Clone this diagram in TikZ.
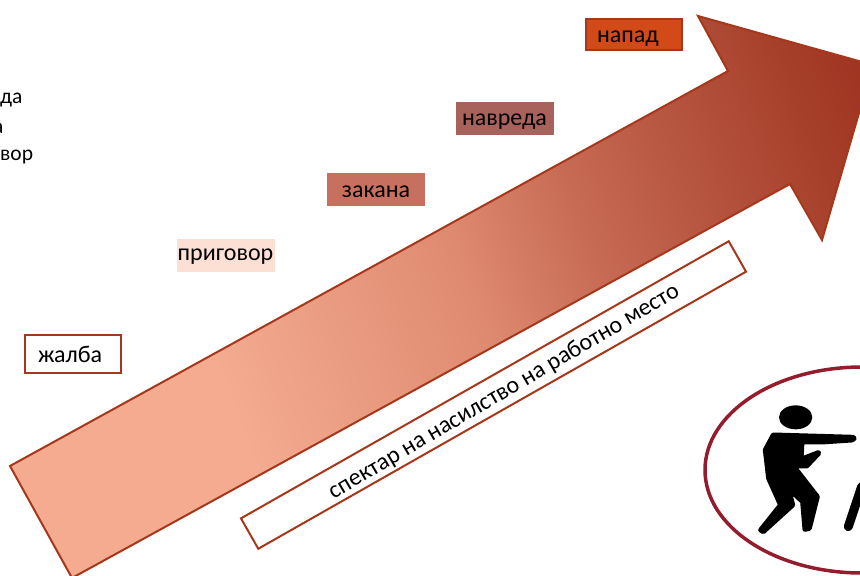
\documentclass[tikz,border=0pt]{standalone}
\usepackage{fontspec}
\setmainfont{Carlito}
\usepackage{xcolor}
\usetikzlibrary{positioning, arrows.meta, shapes}

\definecolor{rust}{HTML}{A5371B}
\definecolor{peach}{HTML}{F4AB90}
\definecolor{wine}{HTML}{9B2D1C}
\definecolor{ringred}{HTML}{A02030}
\definecolor{peachbox}{HTML}{FCE0D4}
\definecolor{zakanabox}{HTML}{C87060}
\definecolor{navredabox}{HTML}{A8625C}
\definecolor{napadbox}{HTML}{D24A17}
\definecolor{shadeone}{HTML}{DE8A70}
\definecolor{shadetwo}{HTML}{C86B54}
\definecolor{shadethree}{HTML}{B5543F}
\definecolor{shadefour}{HTML}{A63F2A}

\pgfdeclarehorizontalshading{arrowshade}{100bp}{
    color(0bp)=(peach); color(35bp)=(peach);
    color(52bp)=(shadeone); color(60bp)=(shadetwo);
    color(68bp)=(shadethree); color(76bp)=(shadefour);
    color(83bp)=(wine); color(100bp)=(wine)}

\tikzset{
    levelbox/.style={draw=#1, fill=#1, line width=2pt, minimum width=96, minimum height=31, inner sep=0pt, text height=17, text depth=1, font=\fontsize{24}{28}\selectfont},
    lefttext/.style={text width=#1, align=left},
    sidetext/.style={anchor=west, inner sep=0pt, font=\fontsize{21.5}{25}\selectfont}
}

\begin{document}
\begin{tikzpicture}[x=1pt, y=-1pt]
    \useasboundingbox (0,0) rectangle (860,576);
    \clip (0,0) rectangle (860,576);

    \coordinate (a) at (10,466);
    \coordinate (b) at (728,71);
    \coordinate (c) at (698,16);
    \coordinate (d) at (873,65);
    \coordinate (e) at (822,240);
    \coordinate (f) at (790,184);
    \coordinate (g) at (72,578);

    \draw[draw=rust, line width=2pt, line join=miter, shading=arrowshade, shading angle=20]
        (a) -- (b) -- (c) -- (d) -- (e) -- (f) -- (g) -- cycle;

    \node[sidetext] (line1) at (0,100) {да};
    \node[sidetext] (line2) at (-7,128) {а};
    \node[sidetext] (line3) at (0,157) {вор};

    \node[levelbox=white, draw=rust, minimum height=38, lefttext=70] (zhalba) at (73,354) {жалба};
    \node[levelbox=peachbox, text depth=7] (prigovor) at (225.5,255) {приговор};
    \node[levelbox=zakanabox] (zakana) at (376,189) {закана};
    \node[levelbox=navredabox, text depth=3] (navreda) at (504.5,118) {навреда};
    \node[levelbox=napadbox, draw=rust, lefttext=73] (napad) at (633.5,34) {напад};

    \node[draw=rust, fill=white, line width=2pt, rotate=29.6, minimum width=561, minimum height=35, inner sep=0pt] (spektar) at (493.5,395) {};
    \node[rotate=30.4, inner sep=0pt, font=\fontsize{24}{28}\selectfont] (spektartext) at (504,392) {спектар на насилство на работно место};

    \draw[draw=ringred!92!black, line width=3.5pt] (862,470) ellipse (157 and 103);

    % the figure, traced in zoomed units
    \begin{scope}[shift={(690,350)}, x=0.3333pt, y=-0.3333pt]
        \fill (317,202) ellipse (50 and 36);
        \filldraw[line join=round, line width=5pt] (250,255) -- (490,262) -- (492,266) -- (485,270) -- (395,276)
            -- (336,276) -- (333,328) -- (385,308) -- (386,310) -- (350,348) -- (310,348) -- (382,440)
            -- (358,535) -- (345,538) -- (338,455) -- (295,415) -- (308,465) -- (220,545) -- (212,540)
            -- (272,465) -- (236,385) -- (226,300) -- cycle;
        \draw[line width=9pt, line cap=round] (515,410) -- (475,530);
    \end{scope}
\end{tikzpicture}
\end{document}
